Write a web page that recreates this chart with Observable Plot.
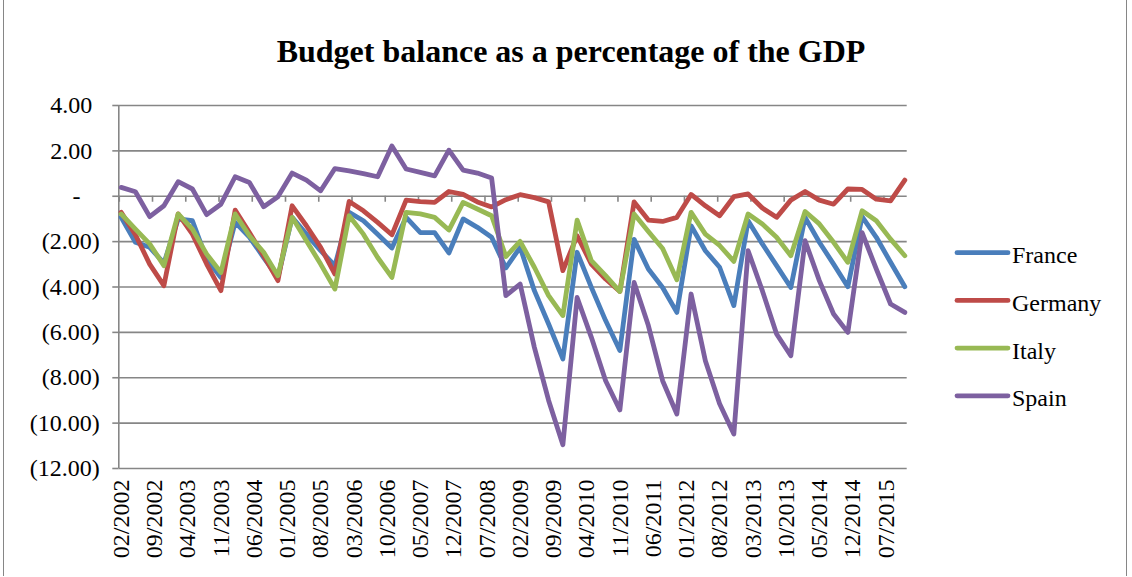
<!DOCTYPE html>
<html>
<head>
<meta charset="utf-8">
<script src="https://cdn.jsdelivr.net/npm/d3@7"></script>
<script src="https://cdn.jsdelivr.net/npm/@observablehq/plot@0.6"></script>
<style>
html, body { margin: 0; padding: 0; background: #fff; }
#wrap { position: relative; width: 1132px; height: 577px; overflow: hidden; background: #fff; }
#frame { position: absolute; left: 3px; top: -2px; width: 1124px; height: 578px; border-left: 1.5px solid #868686; border-right: 1.5px solid #868686; box-sizing: border-box; }
#wrap svg { position: absolute; left: 0; top: 0; }
</style>
</head>
<body>
<div id="wrap"><div id="frame"></div></div>
<script>
const countries = ["France", "Germany", "Italy", "Spain"];
const colors = ["#4A7EBB", "#BE4B48", "#98B954", "#7D60A0"];

const periods = [
  "02/2002","05/2002","08/2002","11/2002","02/2003","05/2003","08/2003","11/2003",
  "02/2004","05/2004","08/2004","11/2004","02/2005","05/2005","08/2005","11/2005",
  "02/2006","05/2006","08/2006","11/2006","02/2007","05/2007","08/2007","11/2007",
  "02/2008","05/2008","08/2008","11/2008","02/2009","05/2009","08/2009","11/2009",
  "02/2010","05/2010","08/2010","11/2010","02/2011","05/2011","08/2011","11/2011",
  "02/2012","05/2012","08/2012","11/2012","02/2013","05/2013","08/2013","11/2013",
  "02/2014","05/2014","08/2014","11/2014","02/2015","05/2015","08/2015","11/2015"
];

const france = [
  -0.93, -2.03, -2.25, -2.95, -1.00, -1.08, -2.77, -3.58,
  -1.15, -1.80, -2.70, -3.58, -0.93, -1.67, -2.40, -3.06,
  -0.71, -1.08, -1.67, -2.28, -0.93, -1.60, -1.60, -2.50,
  -1.00, -1.37, -1.81, -3.16, -2.25, -4.16, -5.63, -7.17,
  -2.47, -4.02, -5.48, -6.80, -1.90, -3.21, -4.02, -5.12,
  -1.30, -2.40, -3.13, -4.82, -1.08, -2.10, -3.06, -4.02,
  -0.93, -2.03, -2.99, -3.99, -0.90, -1.81, -2.91, -3.99
];
const germany = [
  -0.71, -1.70, -2.99, -3.94, -0.78, -1.67, -2.99, -4.16,
  -0.61, -1.60, -2.62, -3.72, -0.42, -1.30, -2.25, -3.43,
  -0.23, -0.64, -1.15, -1.70, -0.17, -0.24, -0.27, 0.21,
  0.08, -0.25, -0.47, -0.15, 0.07, -0.06, -0.25, -3.28,
  -1.74, -2.99, -3.65, -4.20, -0.25, -1.05, -1.11, -0.93,
  0.08, -0.42, -0.86, -0.02, 0.10, -0.52, -0.93, -0.17,
  0.21, -0.17, -0.35, 0.32, 0.30, -0.13, -0.20, 0.71
];
const italy = [
  -0.78, -1.45, -2.10, -3.06, -0.78, -1.45, -2.55, -3.36,
  -0.78, -1.74, -2.47, -3.50, -0.93, -1.96, -2.99, -4.09,
  -0.86, -1.67, -2.70, -3.58, -0.71, -0.78, -0.93, -1.49,
  -0.27, -0.56, -0.86, -2.66, -1.99, -3.13, -4.38, -5.26,
  -1.05, -2.84, -3.50, -4.20, -0.78, -1.55, -2.30, -3.68,
  -0.71, -1.67, -2.17, -2.87, -0.78, -1.22, -1.81, -2.62,
  -0.67, -1.22, -2.03, -2.91, -0.64, -1.08, -1.89, -2.62
];
const spain = [
  0.39, 0.20, -0.90, -0.42, 0.64, 0.32, -0.81, -0.35,
  0.86, 0.61, -0.46, -0.02, 1.02, 0.71, 0.24, 1.22,
  1.12, 1.00, 0.86, 2.22, 1.20, 1.05, 0.90, 2.03,
  1.15, 1.02, 0.80, -4.38, -3.87, -6.66, -9.00, -10.95,
  -4.46, -6.22, -8.13, -9.42, -3.80, -5.70, -8.13, -9.60,
  -4.31, -7.25, -9.15, -10.48, -2.40, -4.16, -6.07, -7.03,
  -1.96, -3.72, -5.19, -6.00, -1.60, -3.21, -4.75, -5.12
];

const xTickLabels = [
  "02/2002","09/2002","04/2003","11/2003","06/2004","01/2005","08/2005","03/2006",
  "10/2006","05/2007","12/2007","07/2008","02/2009","09/2009","04/2010","11/2010",
  "06/2011","01/2012","08/2012","03/2013","10/2013","05/2014","12/2014","07/2015"
];
const yTicks = [4, 2, 0, -2, -4, -6, -8, -10, -12];
const title = "Budget balance as a percentage of the GDP";

// month index from "MM/YYYY" (0 = 02/2002)
const monthIndex = s => { const [mm, yy] = s.split("/").map(Number); return (yy - 2002) * 12 + (mm - 2); };

const series = [france, germany, italy, spain];
const rows = [];
countries.forEach((c, k) => series[k].forEach((v, i) => rows.push({country: c, m: monthIndex(periods[i]), value: v})));

const fmt = v => v === 0 ? "-" : v < 0 ? `(${Math.abs(v).toFixed(2)})` : v.toFixed(2);
const font = "Liberation Serif";
const gray = "#868686";
const pxPerUnit = (468 - 105) / 16;
const txt = {fontSize: 24, fontFamily: font, fill: "#000"};

const chart = Plot.plot({
  width: 1132,
  height: 577,
  marginLeft: 118.3,
  marginRight: 225.3,
  marginTop: 105,
  marginBottom: 109,
  style: {fontFamily: font, fontSize: "24px", color: "#000", background: "transparent", overflow: "visible"},
  x: {type: "linear", domain: [-0.5, 165.5], axis: null},
  y: {domain: [-12, 4], axis: null},
  color: {domain: countries, range: colors},
  marks: [
    Plot.gridY({ticks: yTicks, stroke: gray, strokeOpacity: 1, strokeWidth: 1.6}),
    Plot.ruleX([-0.5], {stroke: gray, strokeWidth: 1.6}),
    Plot.axisY({ticks: yTicks, tickSize: 6, tickFormat: () => "", label: null, stroke: gray, strokeWidth: 1.6}),
    Plot.axisY({ticks: yTicks.filter(v => v < 0), tickSize: 0, tickPadding: 19, tickFormat: fmt, label: null, ...txt}),
    Plot.axisY({ticks: yTicks.filter(v => v > 0), tickSize: 0, tickPadding: 26.6, tickFormat: fmt, label: null, ...txt}),
    Plot.axisY({ticks: [0], tickSize: 0, tickPadding: 38.3, tickFormat: fmt, label: null, ...txt}),
    Plot.ruleX(xTickLabels, {x: d => monthIndex(d) - 0.4, y1: 0, y2: -6 / pxPerUnit, stroke: gray, strokeWidth: 1.6}),
    Plot.line(rows, {x: "m", y: "value", z: "country", stroke: "country", strokeWidth: 4.8, strokeLinejoin: "round", strokeLinecap: "round"}),
    Plot.text(xTickLabels, {x: d => monthIndex(d), frameAnchor: "bottom", dy: 11, rotate: -90, textAnchor: "end", lineAnchor: "middle", ...txt})
  ]
});

const wrap = document.getElementById("wrap");
wrap.appendChild(chart);

// title and legend overlay
const overlay = d3.create("svg")
  .attr("width", 1132).attr("height", 577)
  .style("pointer-events", "none");

overlay.append("text")
  .attr("x", 571).attr("y", 62)
  .attr("text-anchor", "middle")
  .attr("font-family", font)
  .attr("font-weight", "bold")
  .attr("font-size", 32)
  .text(title);

const leg = overlay.append("g");
countries.forEach((c, i) => {
  const y = 252.7 + i * 47.7;
  leg.append("line")
    .attr("x1", 957).attr("x2", 1008).attr("y1", y).attr("y2", y)
    .attr("stroke", colors[i]).attr("stroke-width", 4.8).attr("stroke-linecap", "round");
  leg.append("text")
    .attr("x", 1012).attr("y", y + 10.5)
    .attr("font-family", font)
    .attr("font-size", 24)
    .text(c);
});
wrap.appendChild(overlay.node());
</script>
</body>
</html>
